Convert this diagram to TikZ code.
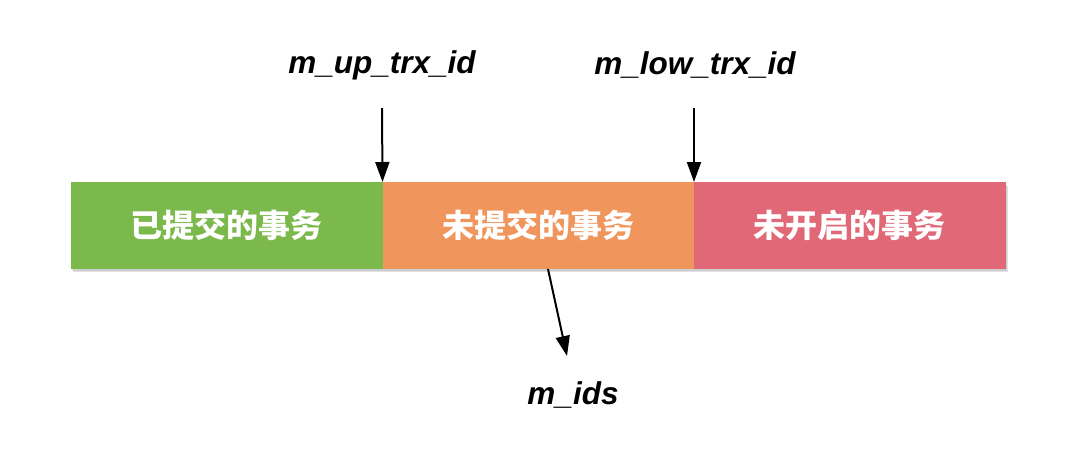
\documentclass[tikz,border=0pt]{standalone}
\usepackage{fontspec}
\setmainfont{Liberation Sans}
\newfontfamily\cjk{Noto Sans CJK SC}
\usetikzlibrary{arrows.meta}
\definecolor{cgreen}{HTML}{7CB94C}
\definecolor{corange}{HTML}{F0955B}
\definecolor{cred}{HTML}{E06877}
\tikzset{
  seg/.style={minimum width=311.5pt, minimum height=87pt, inner sep=0pt, outer sep=0pt,
    text=white, font=\cjk\bfseries\fontsize{32}{32}\selectfont},
  lbl/.style={font=\bfseries\itshape\fontsize{31.5}{31.5}\selectfont, inner sep=0pt},
  arr/.style={line width=2pt, -{Triangle[width=14pt,length=20pt]}},
  shd/.style={fill=black, opacity=0.12}
}
\begin{document}
\begin{tikzpicture}[x=1pt,y=-1pt]
\useasboundingbox (0,0) rectangle (1082,464);
% shadow
\fill[shd] (73,186) rectangle (1008,272);
\fill[black,opacity=0.08] (72,184) rectangle (1007,271);
\node[seg, fill=cgreen, anchor=north west] (g) at (71,182) {已提交的事务};
\node[seg, fill=corange, anchor=north west] (o) at (g.north east) {未提交的事务};
\node[seg, fill=cred, anchor=north west] (r) at (o.north east) {未开启的事务};
\node[lbl] (up) at (382,65) {m\_up\_trx\_id};
\node[lbl] (low) at (695,65) {m\_low\_trx\_id};
\node[lbl] (ids) at (573,395) {m\_ids};
\coordinate (upt) at (382,108);
\coordinate (lowt) at (694,108);
\draw[arr] (upt) -- (g.north east);
\draw[arr] (lowt) -- (o.north east);
\coordinate (ms) at (548,269);
\coordinate (me) at (567,356);
\draw[arr] (ms) -- (me);
\end{tikzpicture}
\end{document}
